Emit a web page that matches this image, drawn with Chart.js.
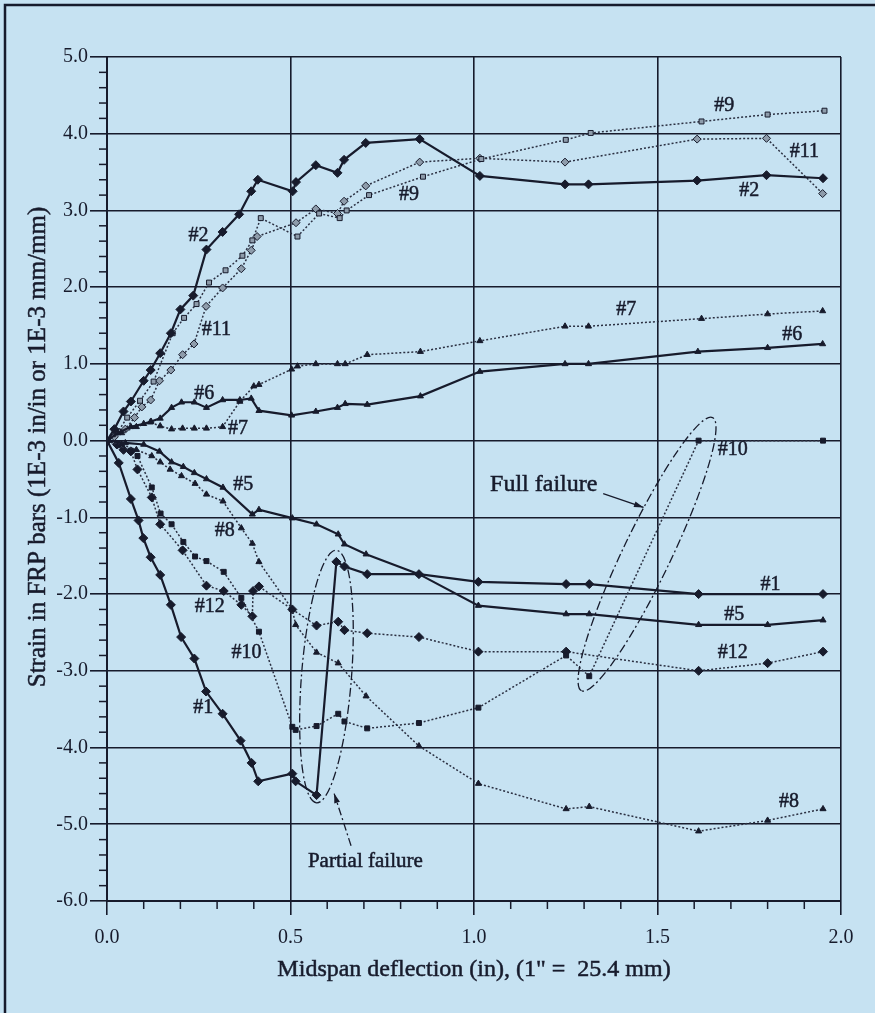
<!DOCTYPE html>
<html>
<head>
<meta charset="utf-8">
<script src="https://cdn.jsdelivr.net/npm/chart.js@4.4.0/dist/chart.umd.min.js"></script>
<style>
  body { margin: 0; background: #c6e2f2; }
  canvas { display: block; }
</style>
</head>
<body>
<canvas id="myChart" width="875" height="1013"></canvas>
<script>
// midspan deflection (in) and bar strain (1E-3) for each FRP bar
var defl1 = [0, 0.032, 0.065, 0.086, 0.099, 0.119, 0.145, 0.174, 0.202, 0.238, 0.27, 0.315, 0.364, 0.394, 0.412, 0.505, 0.514, 0.571, 0.625, 0.647, 0.709, 0.85, 1.012, 1.251, 1.314, 1.612, 1.951];
var strain1 = [0, -0.29, -0.76, -1.04, -1.27, -1.52, -1.75, -2.14, -2.56, -2.84, -3.27, -3.56, -3.91, -4.2, -4.44, -4.34, -4.44, -4.62, -1.58, -1.64, -1.74, -1.74, -1.84, -1.87, -1.87, -2.0, -2.0];

var defl2 = [0, 0.02, 0.045, 0.065, 0.1, 0.119, 0.145, 0.174, 0.2, 0.235, 0.271, 0.315, 0.36, 0.393, 0.411, 0.506, 0.515, 0.569, 0.628, 0.646, 0.705, 0.852, 1.016, 1.248, 1.312, 1.608, 1.797, 1.951];
var strain2 = [0, 0.15, 0.38, 0.51, 0.78, 0.92, 1.14, 1.4, 1.71, 1.89, 2.49, 2.72, 2.95, 3.25, 3.4, 3.25, 3.37, 3.59, 3.49, 3.66, 3.88, 3.93, 3.45, 3.34, 3.34, 3.39, 3.46, 3.42];

var defl5 = [0, 0.05, 0.1, 0.143, 0.176, 0.208, 0.238, 0.271, 0.316, 0.396, 0.414, 0.505, 0.571, 0.63, 0.647, 0.706, 0.85, 1.012, 1.251, 1.314, 1.612, 1.8, 1.951];
var strain5 = [0, -0.03, -0.05, -0.14, -0.28, -0.34, -0.42, -0.5, -0.61, -0.96, -0.9, -1.01, -1.09, -1.22, -1.35, -1.48, -1.74, -2.15, -2.26, -2.26, -2.4, -2.4, -2.34];

var defl6 = [0, 0.03, 0.065, 0.1, 0.12, 0.145, 0.176, 0.203, 0.238, 0.271, 0.315, 0.362, 0.393, 0.414, 0.503, 0.569, 0.628, 0.649, 0.709, 0.854, 1.016, 1.248, 1.312, 1.61, 1.8, 1.95];
var strain6 = [0, 0.1, 0.18, 0.22, 0.25, 0.29, 0.43, 0.5, 0.5, 0.43, 0.53, 0.53, 0.55, 0.39, 0.33, 0.38, 0.43, 0.48, 0.47, 0.58, 0.9, 1.0, 1.0, 1.16, 1.21, 1.26];

var defl7 = [0, 0.04, 0.08, 0.118, 0.145, 0.176, 0.206, 0.238, 0.271, 0.315, 0.362, 0.4, 0.414, 0.503, 0.519, 0.569, 0.628, 0.649, 0.709, 0.854, 1.016, 1.248, 1.312, 1.62, 1.8, 1.95];
var strain7 = [0, 0.1, 0.18, 0.24, 0.19, 0.15, 0.16, 0.16, 0.16, 0.18, 0.51, 0.71, 0.73, 0.93, 0.97, 1.0, 1.0, 1.0, 1.12, 1.16, 1.3, 1.49, 1.49, 1.59, 1.65, 1.69];

var defl8 = [0, 0.04, 0.08, 0.122, 0.145, 0.172, 0.203, 0.24, 0.271, 0.316, 0.366, 0.396, 0.414, 0.505, 0.514, 0.571, 0.63, 0.706, 0.85, 1.012, 1.251, 1.314, 1.612, 1.8, 1.951];
var strain8 = [0, -0.05, -0.12, -0.2, -0.28, -0.375, -0.46, -0.56, -0.7, -0.79, -1.14, -1.34, -1.58, -2.2, -2.4, -2.76, -2.9, -3.33, -3.98, -4.47, -4.8, -4.77, -5.09, -4.95, -4.8];

var defl9 = [0, 0.03, 0.055, 0.09, 0.127, 0.179, 0.21, 0.244, 0.278, 0.323, 0.369, 0.396, 0.419, 0.519, 0.578, 0.634, 0.653, 0.714, 0.861, 1.02, 1.25, 1.318, 1.62, 1.8, 1.955];
var strain9 = [0, 0.12, 0.3, 0.52, 0.77, 1.4, 1.6, 1.78, 2.06, 2.22, 2.41, 2.61, 2.9, 2.66, 2.96, 2.9, 3.0, 3.2, 3.44, 3.67, 3.92, 4.01, 4.16, 4.25, 4.3];

var defl10 = [0, 0.03, 0.065, 0.083, 0.122, 0.146, 0.176, 0.208, 0.24, 0.271, 0.318, 0.366, 0.414, 0.505, 0.514, 0.571, 0.63, 0.647, 0.709, 0.85, 1.012, 1.251, 1.314, 1.612, 1.951];
var strain10 = [0, -0.06, -0.13, -0.2, -0.61, -0.95, -1.09, -1.32, -1.51, -1.57, -1.71, -2.05, -2.49, -3.73, -3.77, -3.72, -3.56, -3.66, -3.75, -3.68, -3.48, -2.8, -3.07, 0.0, 0.0];

var defl11 = [0, 0.02, 0.05, 0.075, 0.095, 0.119, 0.143, 0.174, 0.206, 0.237, 0.27, 0.315, 0.366, 0.393, 0.409, 0.515, 0.569, 0.628, 0.646, 0.705, 0.852, 1.016, 1.248, 1.608, 1.797, 1.95];
var strain11 = [0, 0.05, 0.15, 0.3, 0.44, 0.53, 0.78, 0.92, 1.12, 1.26, 1.75, 1.99, 2.24, 2.48, 2.66, 2.84, 3.02, 2.96, 3.12, 3.32, 3.63, 3.68, 3.63, 3.93, 3.94, 3.22];

var defl12 = [0, 0.027, 0.045, 0.065, 0.083, 0.122, 0.145, 0.206, 0.271, 0.318, 0.366, 0.396, 0.398, 0.414, 0.505, 0.571, 0.63, 0.647, 0.709, 0.85, 1.012, 1.251, 1.612, 1.8, 1.951];
var strain12 = [0, -0.05, -0.12, -0.14, -0.375, -0.74, -1.09, -1.43, -1.89, -1.96, -2.14, -2.29, -1.96, -1.9, -2.2, -2.41, -2.36, -2.47, -2.51, -2.56, -2.75, -2.75, -3.0, -2.9, -2.75];

// bar tags written beside the curves: text, deflection, strain
var tags = [
  ['#9', 1.682, 4.37], ['#11', 1.9, 3.76], ['#2', 1.75, 3.26], ['#9', 0.823, 3.21],
  ['#2', 0.249, 2.67], ['#11', 0.298, 1.44], ['#6', 0.265, 0.61], ['#7', 0.357, 0.157],
  ['#7', 1.415, 1.71], ['#6', 1.867, 1.38], ['#10', 1.705, -0.12],
  ['#5', 0.371, -0.576], ['#8', 0.321, -1.18], ['#12', 0.28, -2.17], ['#10', 0.38, -2.76],
  ['#1', 0.262, -3.48], ['#1', 1.808, -1.88], ['#5', 1.709, -2.27], ['#12', 1.705, -2.76],
  ['#8', 1.858, -4.7]
];

var ink = '#171b2c';
var grey = '#8e9cab';
var serif = '"Liberation Serif"';

function toPoints(xs, ys) {
  return xs.map(function(v, i) { return {x: v, y: ys[i]}; });
}

function series(xs, ys, solid, shape, fill, r) {
  return {
    data: toPoints(xs, ys),
    showLine: true,
    borderColor: solid ? ink : '#2b3042',
    borderWidth: solid ? 2.2 : 1.5,
    borderDash: solid ? [] : [2, 2],
    pointStyle: shape,
    pointRadius: r,
    pointBackgroundColor: fill,
    pointBorderColor: ink,
    pointBorderWidth: 1,
    tension: 0
  };
}

var datasets = [
  series(defl1, strain1, true, 'rectRot', ink, 4.5),
  series(defl2, strain2, true, 'rectRot', ink, 4.5),
  series(defl5, strain5, true, 'triangle', ink, 3.5),
  series(defl6, strain6, true, 'triangle', ink, 3.5),
  series(defl7, strain7, false, 'triangle', ink, 3.5),
  series(defl8, strain8, false, 'triangle', ink, 3.5),
  series(defl9, strain9, false, 'rect', grey, 3.5),
  series(defl10, strain10, false, 'rect', ink, 3.5),
  series(defl11, strain11, false, 'rectRot', grey, 4),
  series(defl12, strain12, false, 'rectRot', ink, 4.5)
];

function ellipse(ctx, x1, y1, x2, y2, b) {
  var cx = (x1 + x2) / 2, cy = (y1 + y2) / 2;
  var a = Math.hypot(x2 - x1, y2 - y1) / 2;
  var ang = Math.atan2(y2 - y1, x2 - x1);
  ctx.beginPath();
  ctx.ellipse(cx, cy, a, b, ang, 0, 2 * Math.PI);
  ctx.stroke();
}

function arrow(ctx, x1, y1, x2, y2) {
  ctx.beginPath();
  ctx.moveTo(x1, y1);
  ctx.lineTo(x2, y2);
  ctx.stroke();
  var ang = Math.atan2(y2 - y1, x2 - x1);
  ctx.setLineDash([]);
  ctx.beginPath();
  ctx.moveTo(x2, y2);
  ctx.lineTo(x2 - 10 * Math.cos(ang - 0.3), y2 - 10 * Math.sin(ang - 0.3));
  ctx.lineTo(x2 - 10 * Math.cos(ang + 0.3), y2 - 10 * Math.sin(ang + 0.3));
  ctx.closePath();
  ctx.fill();
}

// text a little heavier, like the scanned original
function heavyText(ctx, s, x, y) {
  ctx.lineWidth = 0.5;
  ctx.strokeText(s, x, y);
  ctx.fillText(s, x, y);
}

var extras = {
  id: 'extras',
  afterDraw: function(chart) {
    var ctx = chart.ctx;
    var sx = chart.scales.x, sy = chart.scales.y, area = chart.chartArea;
    var px = function(v) { return sx.getPixelForValue(v); };
    var py = function(v) { return sy.getPixelForValue(v); };
    ctx.save();
    ctx.strokeStyle = ink;
    ctx.fillStyle = ink;

    // outer frame
    ctx.lineWidth = 2.5;
    ctx.beginPath();
    ctx.moveTo(5, 1013);
    ctx.lineTo(5, 5);
    ctx.lineTo(875, 5);
    ctx.stroke();

    // minor ticks
    ctx.lineWidth = 1.5;
    for (var k = -30; k <= 25; k++) {
      if (k % 5 === 0) continue;
      var yy = py(k / 5);
      ctx.beginPath();
      ctx.moveTo(area.left - 8, yy);
      ctx.lineTo(area.left, yy);
      ctx.stroke();
    }
    for (var j = 1; j < 20; j++) {
      if (j % 5 === 0) continue;
      var xx = px(j / 10);
      ctx.beginPath();
      ctx.moveTo(xx, area.bottom);
      ctx.lineTo(xx, area.bottom + 8);
      ctx.stroke();
    }

    // bar tags
    ctx.font = '20px ' + serif;
    ctx.textAlign = 'center';
    ctx.textBaseline = 'middle';
    tags.forEach(function(t) {
      heavyText(ctx, t[0], px(t[1]), py(t[2]));
    });

    // failure ellipses
    ctx.lineWidth = 1.3;
    ctx.setLineDash([9, 3, 2, 3]);
    ellipse(ctx, px(0.625), py(-1.43), px(0.571), py(-4.72), 25);
    ellipse(ctx, px(1.65), py(0.3), px(1.293), py(-3.26), 24);

    ctx.setLineDash([8, 3, 2, 3]);
    arrow(ctx, px(0.665), py(-5.28), px(0.619), py(-4.6));
    ctx.setLineDash([]);
    ctx.lineWidth = 1.3;
    arrow(ctx, px(1.352), py(-0.69), px(1.462), py(-0.87));

    ctx.font = '24px ' + serif;
    heavyText(ctx, 'Full failure', px(1.19), py(-0.57));
    ctx.font = '21px ' + serif;
    heavyText(ctx, 'Partial failure', px(0.704), py(-5.48));

    // axis titles
    ctx.font = '24px ' + serif;
    heavyText(ctx, 'Midspan deflection (in), (1" =  25.4 mm)', (area.left + area.right) / 2, 970);
    ctx.translate(38, 447);
    ctx.rotate(-Math.PI / 2);
    ctx.font = '25px ' + serif;
    heavyText(ctx, 'Strain in FRP bars (1E-3 in/in or 1E-3 mm/mm)', 0, 0);
    ctx.restore();
  }
};

var ctx = document.getElementById('myChart');
var myChart = new Chart(ctx, {
  type: 'scatter',
  data: { datasets: datasets },
  options: {
    responsive: false,
    animation: false,
    devicePixelRatio: 1,
    layout: { padding: { left: 0, top: 57, right: 34, bottom: 0 } },
    plugins: { legend: { display: false }, tooltip: { enabled: false } },
    scales: {
      x: {
        type: 'linear',
        min: 0,
        max: 2,
        afterFit: function(scale) { scale.height = 112; },
        ticks: {
          stepSize: 0.5,
          color: ink,
          padding: 11,
          font: { family: 'Liberation Serif', size: 20 },
          callback: function(v) { return v.toFixed(1); }
        },
        grid: { color: ink, lineWidth: 1.6, tickLength: 14, tickColor: ink, tickWidth: 1.6 },
        border: { color: ink, width: 2 }
      },
      y: {
        type: 'linear',
        min: -6,
        max: 5,
        afterFit: function(scale) { scale.width = 107; },
        ticks: {
          stepSize: 1,
          color: ink,
          padding: 2,
          font: { family: 'Liberation Serif', size: 20 },
          callback: function(v) { return v.toFixed(1); }
        },
        grid: { color: ink, lineWidth: 1.6, tickLength: 17, tickColor: ink, tickWidth: 1.6 },
        border: { color: ink, width: 2 }
      }
    }
  },
  plugins: [extras]
});
</script>
</body>
</html>
